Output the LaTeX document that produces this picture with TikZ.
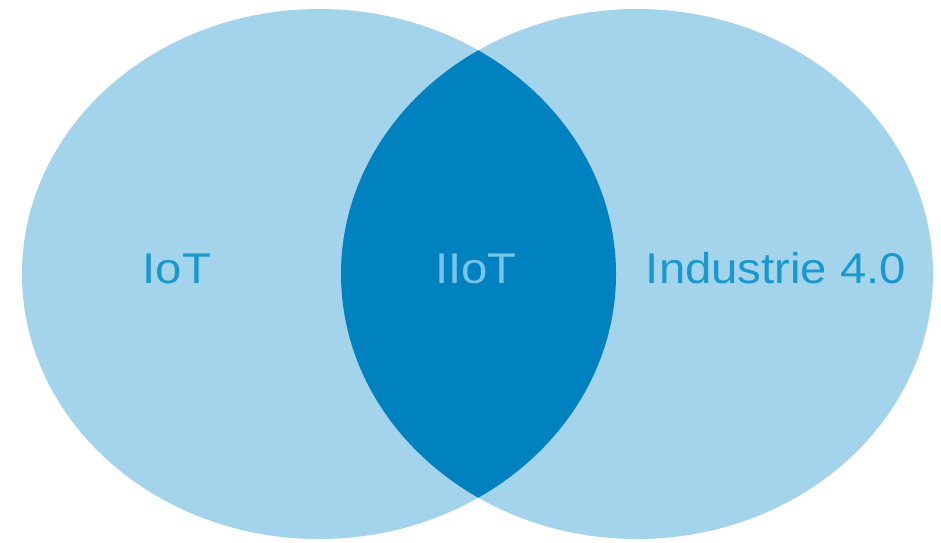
\documentclass[tikz,border=0pt]{standalone}
\usepackage{fontspec}
\setmainfont{Liberation Sans}
\usepackage{graphicx}
\usepackage{xcolor}
\usepackage{tikz}
\definecolor{lightblue}{RGB}{163,212,236}
\definecolor{darkblue}{RGB}{0,130,192}
\definecolor{textblue}{RGB}{26,152,206}
\definecolor{lenstext}{RGB}{120,196,232}
\newcommand{\vennlabel}[1]{\scalebox{1.1}[1]{\fontsize{43}{50}\selectfont #1}}

\begin{document}
\begin{tikzpicture}[x=1pt,y=-1pt]
\useasboundingbox (0,0) rectangle (941,542);
\fill[white] (0,0) rectangle (941,542);
\fill[lightblue] (319,274) ellipse (297 and 265);
\fill[lightblue] (637,274) ellipse (296 and 265);
\begin{scope}
\clip (319,274) ellipse (297 and 265);
\fill[darkblue] (637,274) ellipse (296 and 265);
\end{scope}
\node[textblue,anchor=base] (iot) at (177,283) {\vennlabel{IoT}};
\node[lenstext,anchor=base] (iiot) at (476,283) {\vennlabel{IIoT}};
\node[textblue,anchor=base] (industrie) at (776,283) {\vennlabel{Industrie 4.0}};
\end{tikzpicture}
\end{document}
